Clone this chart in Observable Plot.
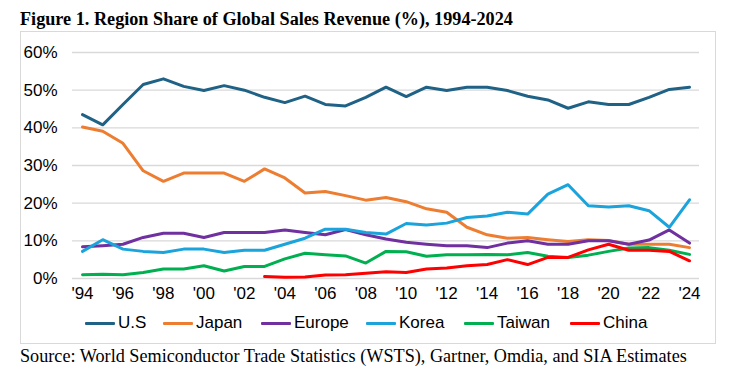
<!DOCTYPE html>
<html>
<head>
<meta charset="utf-8">
<script src="https://cdn.jsdelivr.net/npm/d3@7"></script>
<script src="https://cdn.jsdelivr.net/npm/@observablehq/plot@0.6"></script>
<style>
  html, body { margin: 0; padding: 0; background: #fff; }
  body { width: 733px; height: 377px; position: relative; overflow: hidden; }
  #title { position: absolute; left: 20px; top: 9px; font-family: "Liberation Serif", serif; font-weight: bold; font-size: 18.2px; line-height: 20px; color: #000; white-space: nowrap; }
  #box { position: absolute; left: 20px; top: 31px; width: 694px; height: 311px; border: 1px solid #d9d9d9; }
  #chart { position: absolute; left: 0; top: 0; }
  #legend { position: absolute; left: 0; top: 280px; width: 694px; height: 22px; font-family: "Liberation Sans", Arial, sans-serif; font-size: 17px; color: #000; }
  .item { position: absolute; top: 0; display: flex; align-items: center; height: 22px; white-space: nowrap; }
  .sw { display: inline-block; width: 30px; height: 3px; margin-right: 3px; border-radius: 1px; }
  #source { position: absolute; left: 20px; top: 346px; font-family: "Liberation Serif", serif; font-size: 18.2px; line-height: 20px; color: #000; white-space: nowrap; }
</style>
</head>
<body>
<div id="title">Figure 1. Region Share of Global Sales Revenue (%), 1994-2024</div>
<div id="box"><div id="chart"></div><div id="legend"></div></div>
<div id="source">Source: World Semiconductor Trade Statistics (WSTS), Gartner, Omdia, and SIA Estimates</div>
<script>
const years = d3.range(1994, 2025);
const us     = [43.5,40.8,46.2,51.5,53.0,51.0,49.9,51.2,50.0,48.1,46.7,48.4,46.2,45.8,48.1,50.8,48.3,50.8,49.9,50.8,50.8,49.9,48.4,47.4,45.2,46.9,46.2,46.2,48.1,50.2,50.8];
const japan  = [40.2,39.1,35.9,28.6,25.8,28.0,28.0,28.0,25.8,29.1,26.7,22.7,23.1,22.0,20.8,21.5,20.4,18.5,17.6,13.6,11.6,10.7,10.9,10.3,9.8,10.3,10.1,9.1,9.1,9.1,8.2];
const europe = [8.4,8.7,9.1,10.9,12.0,12.0,10.9,12.2,12.2,12.2,12.9,12.2,11.6,13.0,11.6,10.5,9.6,9.1,8.7,8.7,8.2,9.4,10.0,9.1,9.1,10.0,10.0,9.1,10.2,12.9,9.4];
const korea  = [7.2,10.3,7.8,7.2,6.9,7.8,7.8,6.9,7.5,7.5,9.1,10.7,13.1,13.1,12.2,11.8,14.6,14.2,14.7,16.2,16.6,17.6,17.1,22.4,24.9,19.3,19.0,19.3,18.0,13.6,20.9];
const taiwan = [1.0,1.1,1.0,1.6,2.5,2.5,3.4,2.0,3.2,3.2,5.2,6.7,6.3,6.0,4.1,7.2,7.1,5.9,6.3,6.3,6.4,6.3,6.9,5.9,5.6,6.2,7.2,8.1,8.2,7.5,6.4];
const chinaYears = d3.range(2003, 2025);
const china  = [0.5,0.3,0.4,0.9,1.0,1.4,1.8,1.6,2.5,2.8,3.4,3.7,5.0,3.7,5.6,5.6,7.6,9.1,7.5,7.5,7.2,4.7];
const seriesNames = ["U.S","Japan","Europe","Korea","Taiwan","China"];
const seriesColors = ["#1f6285","#ed7d31","#7030a0","#1ba3dc","#00b050","#ff0000"];
const yTicks = [0,10,20,30,40,50,60];
const xTicks = d3.range(1994, 2025, 2);
const legendX = [64, 142, 240, 345, 443, 549];

const seriesValues = [us, japan, europe, korea, taiwan, china];
const rows = [];
seriesNames.forEach((name, i) => {
  const ys = name === "China" ? chinaYears : years;
  seriesValues[i].forEach((v, j) => rows.push({series: name, year: ys[j], value: v}));
});

const chart = Plot.plot({
  width: 694,
  height: 280,
  marginLeft: 51,
  marginRight: 16,
  marginTop: 20,
  marginBottom: 34,
  style: {fontFamily: "'Liberation Sans', Arial, sans-serif", fontSize: "17px", color: "#000", background: "transparent"},
  x: {domain: [1994, 2024], insetLeft: 10, insetRight: 10, label: null},
  y: {domain: [0, 60], label: null},
  color: {domain: seriesNames, range: seriesColors},
  marks: [
    Plot.ruleY(yTicks, {stroke: "#d9d9d9", strokeWidth: 1.3}),
    Plot.axisX({ticks: xTicks, tickFormat: d => "'" + String(d).slice(2), tickSize: 0, tickPadding: 8, fontSize: 17}),
    Plot.axisY({ticks: yTicks, tickFormat: d => d + "%", tickSize: 0, tickPadding: 15, fontSize: 17}),
    Plot.line(rows, {x: "year", y: "value", z: "series", stroke: "series", strokeWidth: 3, strokeLinejoin: "round", strokeLinecap: "round"})
  ]
});
document.getElementById("chart").appendChild(chart);

const legend = document.getElementById("legend");
seriesNames.forEach((name, i) => {
  const item = document.createElement("div");
  item.className = "item";
  item.style.left = legendX[i] + "px";
  const sw = document.createElement("span");
  sw.className = "sw";
  sw.style.background = seriesColors[i];
  const t = document.createElement("span");
  t.textContent = name;
  item.appendChild(sw);
  item.appendChild(t);
  legend.appendChild(item);
});
</script>
</body>
</html>
